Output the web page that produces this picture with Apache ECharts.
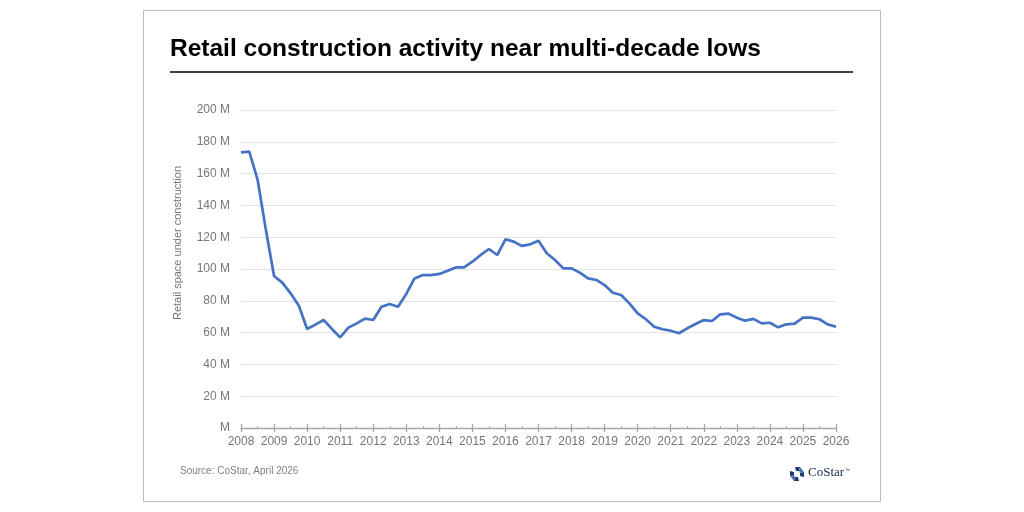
<!DOCTYPE html>
<html>
<head>
<meta charset="utf-8">
<script src="https://cdn.jsdelivr.net/npm/echarts@6/dist/echarts.min.js"></script>
<style>
html,body{margin:0;padding:0;background:#fff;}
#chart{width:1024px;height:512px;}
</style>
</head>
<body>
<div id="chart"></div>
<script>
// Quarterly data, 2008 Q1 .. 2026 Q1 (millions of sq ft under construction)
const startYear = 2008;
const values = [
  173.4, 173.8, 156.4, 125.0,
  95.6, 91.4, 84.7, 76.9,
  62.3, 65.0, 67.9, 62.3,
  57.0, 63.1, 65.8, 68.8,
  67.9, 76.3, 78.0, 76.3,
  84.3, 94.1, 96.2, 96.2,
  96.9, 98.9, 101.0, 101.0,
  104.6, 108.8, 112.6, 108.8,
  118.7, 117.2, 114.5, 115.5,
  117.8, 109.9, 105.7, 100.4,
  100.4, 97.7, 94.1, 93.1,
  89.9, 85.1, 83.6, 78.4,
  72.1, 68.4, 63.7, 62.1,
  61.2, 59.6, 62.7, 65.4,
  67.9, 67.3, 71.5, 71.9,
  69.4, 67.5, 68.6, 65.8,
  66.2, 63.3, 65.2, 65.6,
  69.4, 69.4, 68.4, 65.2,
  63.7
];
const yTicks = [0, 20, 40, 60, 80, 100, 120, 140, 160, 180, 200];
const xYears = [2008, 2026];
const titleText = 'Retail construction activity near multi-decade lows';
const yAxisTitle = 'Retail space under construction';
const sourceText = 'Source: CoStar, April 2026';

const seriesData = values.map((v, i) => [startYear + i / 4, v]);

const chart = echarts.init(document.getElementById('chart'));
const gray = '#767676';
const axisBase = {
  type: 'value', min: xYears[0], max: xYears[1], interval: 1,
  splitLine: { show: false }
};
chart.setOption({
  animation: false,
  backgroundColor: '#fff',
  grid: { left: 241, right: 188, top: 110, bottom: 84, containLabel: false },
  xAxis: [
    Object.assign({}, axisBase, {
      axisLine: { show: true, lineStyle: { color: '#a6a6a6', width: 1.3 } },
      axisTick: { show: true, length: 4, lineStyle: { color: '#a6a6a6', width: 1.3 } },
      minorTick: { show: true, splitNumber: 2, length: 0 },
      axisLabel: { color: gray, fontSize: 12, fontFamily: 'Liberation Sans, Arial', margin: 8,
        formatter: v => String(v) }
    }),
    Object.assign({}, axisBase, {
      position: 'bottom',
      axisLine: { show: false },
      axisTick: { show: true, inside: true, length: 4, lineStyle: { color: '#a6a6a6', width: 1.3 } },
      minorTick: { show: true, splitNumber: 2, length: 2, lineStyle: { color: '#a6a6a6', width: 1 } },
      axisLabel: { show: false }
    })
  ],
  yAxis: {
    type: 'value', min: yTicks[0], max: yTicks[yTicks.length - 1], interval: 20,
    axisLine: { show: false }, axisTick: { show: false },
    axisLabel: { color: gray, fontSize: 12, fontFamily: 'Liberation Sans, Arial', margin: 11,
      formatter: v => v === 0 ? 'M' : v + ' M' },
    splitLine: { show: true, lineStyle: { color: '#e3e3e3', width: 1 } }
  },
  series: [{
    type: 'line', data: seriesData, xAxisIndex: 0, showSymbol: false, symbol: 'none',
    lineStyle: { color: '#4472c4', width: 2.7 }, z: 5
  }],
  graphic: [
    { type: 'rect', shape: { x: 143.5, y: 10.5, width: 737, height: 491 },
      style: { fill: 'none', stroke: '#bfbfbf', lineWidth: 1 }, silent: true },
    { type: 'text', left: 170, top: 37,
      style: { text: titleText, fill: '#000', font: 'bold 24.5px "Liberation Sans", Arial' } },
    { type: 'line', shape: { x1: 170, y1: 72, x2: 853, y2: 72 },
      style: { stroke: '#000', lineWidth: 1.3 } },
    { type: 'text', x: 178, y: 243, rotation: Math.PI / 2,
      style: { text: yAxisTitle, fill: gray, font: '11px "Liberation Sans", Arial',
        align: 'center', verticalAlign: 'middle' } },
    { type: 'text', left: 180, top: 466,
      style: { text: sourceText, fill: '#7f7f7f', font: '10px "Liberation Sans", Arial' } },
    // CoStar logo mark (pinwheel)
    { type: 'group', x: 797, y: 474, children: [
      { type: 'polygon', shape: { points: [[-2,-7],[3,-7],[2,-3],[-1,-3]] }, style: { fill: '#1f3b73' } },
      { type: 'polygon', shape: { points: [[7,-2],[7,3],[3,2],[3,-1]] }, style: { fill: '#1f3b73' } },
      { type: 'polygon', shape: { points: [[2,7],[-3,7],[-2,3],[1,3]] }, style: { fill: '#1f3b73' } },
      { type: 'polygon', shape: { points: [[-7,2],[-7,-3],[-3,-2],[-3,1]] }, style: { fill: '#1f3b73' } },
      { type: 'polygon', shape: { points: [[3,-7],[7,-2],[3,-1],[2,-3]] }, style: { fill: '#4a6fb5' } },
      { type: 'polygon', shape: { points: [[-3,7],[-7,2],[-3,1],[-2,3]] }, style: { fill: '#4a6fb5' } }
    ] },
    { type: 'text', left: 808, top: 466,
      style: { text: 'CoStar', fill: '#1a2a4a', font: '13px "Liberation Serif", "DejaVu Serif", serif' } },
    { type: 'text', left: 845, top: 468,
      style: { text: '™', fill: '#1a2a4a', font: '5px "Liberation Sans", Arial' } }
  ]
});
</script>
</body>
</html>
